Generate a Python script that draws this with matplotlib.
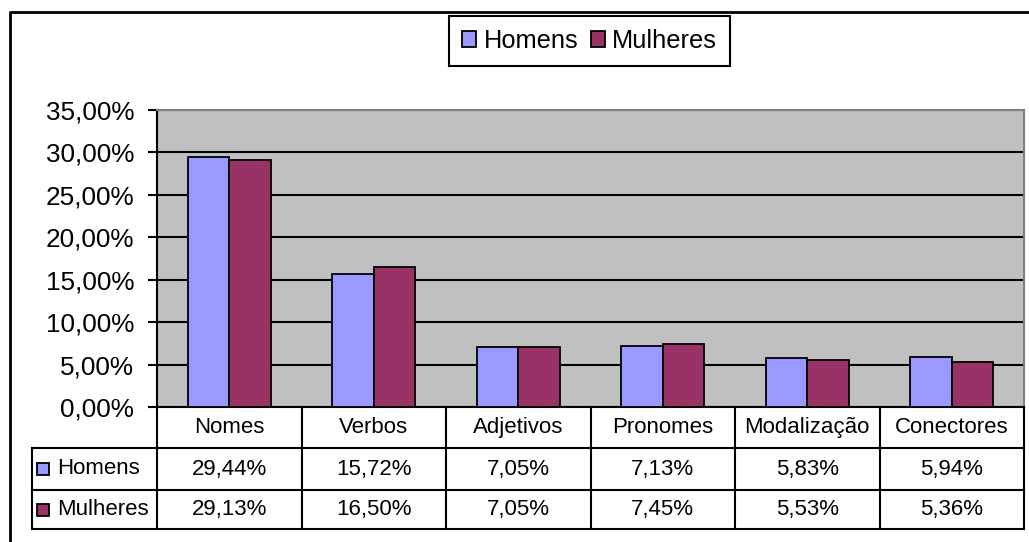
import numpy as np
import matplotlib
matplotlib.use('Agg')
import matplotlib.pyplot as plt
from matplotlib.transforms import Affine2D
from matplotlib.lines import Line2D
from matplotlib.patches import Rectangle

plt.rcParams['font.family'] = ['Liberation Sans', 'DejaVu Sans']

categorias = ['Nomes', 'Verbos', 'Adjetivos', 'Pronomes', 'Modalização', 'Conectores']
homens = [29.44, 15.72, 7.05, 7.13, 5.83, 5.94]
mulheres = [29.13, 16.50, 7.05, 7.45, 5.53, 5.36]
series = ['Homens', 'Mulheres']
cores = ['#9999FF', '#993366']
yticks = [0, 5, 10, 15, 20, 25, 30, 35]

def pct(v):
    return f'{v:.2f}%'.replace('.', ',')

W, H = 1029, 542
fig = plt.figure(figsize=(W / 100, H / 100), dpi=100)
pix = Affine2D().scale(1 / W, -1 / H).translate(0, 1) + fig.transFigure

# plot area (pixels)
L, R, T, B = 157, 1024, 110, 407
ax = fig.add_axes([L / W, 1 - B / H, (R - L) / W, (B - T) / H])
ax.set_facecolor('#C0C0C0')
ax.set_xlim(-0.5, len(categorias) - 0.5)
ax.set_ylim(0, 35)

x = np.arange(len(categorias))
w = 0.287
ax.bar(x - w / 2, homens, w, color=cores[0], edgecolor='black', linewidth=1.3, label=series[0], zorder=3)
ax.bar(x + w / 2, mulheres, w, color=cores[1], edgecolor='black', linewidth=1.3, label=series[1], zorder=3)

ax.set_yticks(yticks)
ax.set_yticklabels([pct(v) for v in yticks], fontsize=18.8)
ax.set_xticks([])
ax.yaxis.grid(True, color='black', linewidth=1.5)
ax.set_axisbelow(True)
ax.tick_params(axis='y', length=6.5, width=1.5, pad=10)
ax.spines['left'].set_linewidth(1.5)
ax.spines['bottom'].set_linewidth(1.5)
for s in ['top', 'right']:
    ax.spines[s].set_color('#808080')
    ax.spines[s].set_linewidth(1.5)

# data table below the chart
colw = (R - L) / len(categorias)
rows_y = [407, 448, 490, 529]
lab_x = 32
fs_tab = 16

def line(xs, ys, lw=1.5):
    fig.add_artist(Line2D(xs, ys, color='black', linewidth=lw, transform=pix))

for i in range(len(categorias) + 1):
    line([L + i * colw] * 2, [rows_y[0], rows_y[3]])
line([lab_x, lab_x], [rows_y[1], rows_y[3]])
for yy in rows_y[1:]:
    line([lab_x, R], [yy, yy])

for i, c in enumerate(categorias):
    cx = L + (i + 0.5) * colw
    fig.text(cx, (rows_y[0] + rows_y[1]) / 2, c, transform=pix, ha='center', va='center', fontsize=fs_tab)
    for r, vals in enumerate([homens, mulheres]):
        fig.text(cx, (rows_y[r + 1] + rows_y[r + 2]) / 2, pct(vals[i]), transform=pix,
                 ha='center', va='center', fontsize=fs_tab)

for r, nome in enumerate(series):
    cy = (rows_y[r + 1] + rows_y[r + 2]) / 2
    fig.add_artist(Rectangle((37, cy - 6), 12, 12, facecolor=cores[r], edgecolor='black',
                             linewidth=1.3, transform=pix))
    fig.text(57, cy, nome, transform=pix, ha='left', va='center', fontsize=fs_tab)

# legend
leg = fig.legend(loc='center', bbox_to_anchor=(589.5 / W, 1 - 41 / H), ncol=2, fontsize=18.3,
                 frameon=True, fancybox=False, framealpha=1, edgecolor='black',
                 handlelength=0.55, handleheight=0.55, handletextpad=0.3, columnspacing=0.5,
                 borderpad=0.5, borderaxespad=0)
leg.get_frame().set_linewidth(1.5)

# outer chart frame
line([10, 10, W], [H, 12, 12], lw=2)

fig.savefig('out.png', dpi=100)
